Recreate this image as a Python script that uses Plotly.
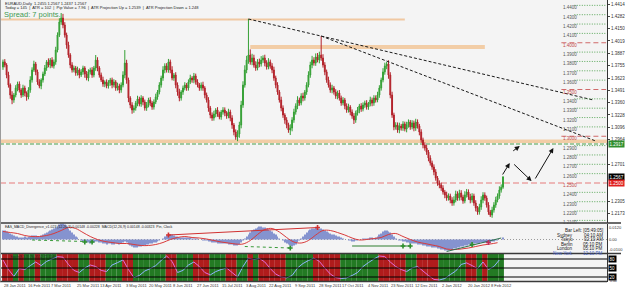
import plotly.graph_objects as go
import pandas as pd

W, H = 625, 289

# ---------------- data ----------------
symbol_header = "EURAUD,Daily  1.2455 1.2567 1.2437 1.2567"
info_header = "Today = 145  |  ATR = 102  |  Pip Value = 7.96  |  ATR Projection Up = 1.2539  |  ATR Projection Down = 1.248"
spread_text = "Spread: 7 points."
macd_header = "EAS_MACD_Divergence_v1.023 (12,26,9) 0.00148 -0.00228  MACD(12,26,9) 0.00148 -0.00323  Pin, Clock"
stoch_header = "Stoch(8,3,3) 76.3552 72.1140"

first_open_pips = 13740
close_pips = [
    13795, 13762, 13655, 13548, 13441, 13388, 13441, 13516, 13559, 13495,
    13441, 13516, 13462, 13420, 13495, 13602, 13709, 13773, 13688, 13580,
    13538, 13602, 13666, 13730, 13795, 13762, 13815, 13752, 13795, 13922,
    14083, 14222, 14264, 14190, 14083, 13976, 13869, 13762, 13709, 13730,
    13677, 13709, 13655, 13688, 13730, 13666, 13623, 13688, 13709, 13655,
    13730, 13815, 13730, 13655, 13602, 13559, 13580, 13538, 13570, 13602,
    13548, 13580, 13516, 13538, 13495, 13548, 13655, 13783, 13602, 13409,
    13334, 13281, 13302, 13356, 13398, 13345, 13409, 13366, 13302, 13334,
    13388, 13356, 13313, 13366, 13420, 13473, 13548, 13623, 13709, 13752,
    13709, 13795, 13709, 13623, 13655, 13548, 13473, 13409, 13473, 13516,
    13548, 13516, 13580, 13623, 13602, 13645, 13580, 13548, 13516, 13548,
    13516, 13441, 13388, 13302, 13227, 13195, 13238, 13281, 13238, 13206,
    13259, 13281, 13249, 13217, 13259, 13195, 13120, 13045, 12992, 13024,
    13120, 13334, 13548, 13709, 13815, 13869, 13795, 13837, 13762, 13730,
    13795, 13773, 13815, 13837, 13783, 13741, 13795, 13752, 13709, 13623,
    13548, 13473, 13388, 13302, 13227, 13174, 13120, 13067, 13088, 13174,
    13259, 13324, 13388, 13356, 13430, 13409, 13473, 13548, 13655, 13762,
    13815, 13783, 13848, 13815, 13869, 13837, 13762, 13688, 13602, 13548,
    13495, 13516, 13473, 13430, 13462, 13409, 13356, 13388, 13324, 13281,
    13313, 13259, 13217, 13174, 13249, 13281, 13324, 13291, 13334, 13356,
    13313, 13345, 13388, 13356, 13409, 13388, 13441, 13516, 13602, 13688,
    13752, 13773, 13655, 13441, 13227, 13099, 13120, 13067, 13110, 13088,
    13131, 13077, 13120, 13152, 13099, 13142, 13088, 13152, 13110, 13045,
    12960, 12906, 12874, 12831, 12767, 12714, 12671, 12618, 12553, 12500,
    12479, 12446, 12404, 12372, 12340, 12361, 12318, 12286, 12318, 12383,
    12340, 12393, 12350, 12308, 12372, 12404, 12350, 12318, 12361, 12286,
    12232, 12190, 12243, 12318, 12372, 12340, 12265, 12190, 12158, 12211,
    12265, 12318, 12361, 12425, 12455, 12567,
]
upper_wick_pips = [
    25, 30, 20, 35, 18, 40, 22, 30, 25, 28,
    20, 35, 25, 18, 30, 40, 28, 35, 22, 25,
    30, 18, 25, 32, 20, 38, 22, 30, 26, 35,
    28, 40, 54, 45, 30, 25, 35, 20, 30, 26,
    22, 35, 18, 30, 25, 20, 32, 28, 24, 30,
    22, 54, 30, 20, 26, 35, 18, 28, 30, 22,
    25, 30, 20, 35, 24, 28, 40, 139, 35, 25,
    20, 30, 28, 22, 35, 25, 30, 20, 26, 32,
    24, 30, 20, 28, 35, 22, 30, 25, 40, 28,
    30, 32, 25, 40, 22, 30, 28, 35, 20, 26,
    30, 22, 28, 35, 20, 32, 25, 30, 22, 28,
    35, 20, 26, 30, 22, 28, 35, 20, 30, 25,
    22, 30, 28, 20, 35, 25, 30, 22, 28, 40,
    35, 45, 40, 50, 45, 385, 60, 45, 35, 40,
    30, 35, 42, 28, 35, 30, 40, 25, 30, 35,
    25, 30, 22, 35, 28, 20, 30, 25, 40, 30,
    35, 28, 40, 25, 30, 35, 22, 30, 40, 35,
    45, 30, 38, 42, 35, 203, 40, 30, 25, 35,
    28, 35, 22, 30, 26, 32, 25, 30, 22, 28,
    35, 20, 28, 30, 25, 32, 22, 30, 28, 25,
    30, 22, 35, 25, 30, 28, 35, 30, 25, 40,
    35, 22, 40, 30, 35, 25, 30, 28, 35, 22,
    30, 25, 35, 28, 22, 30, 25, 35, 28, 22,
    30, 25, 28, 35, 22, 30, 25, 28, 30, 22,
    28, 25, 30, 22, 35, 28, 25, 30, 40, 35,
    28, 35, 30, 25, 40, 32, 28, 35, 30, 25,
    30, 22, 35, 40, 30, 28, 25, 30, 22, 35,
    30, 35, 28, 40, 30, 0,
]
lower_wick_pips = [
    30, 25, 35, 28, 40, 45, 30, 25, 35, 28,
    30, 22, 35, 40, 25, 30, 28, 20, 35, 30,
    25, 35, 28, 22, 30, 25, 35, 20, 28, 30,
    25, 22, 30, 35, 28, 40, 30, 35, 28, 25,
    30, 28, 35, 22, 30, 40, 25, 35, 28, 30,
    25, 30, 35, 28, 22, 30, 35, 25, 28, 30,
    35, 25, 30, 28, 35, 30, 25, 35, 40, 45,
    35, 40, 30, 28, 35, 25, 30, 35, 28, 30,
    25, 35, 30, 28, 22, 30, 25, 28, 30, 35,
    28, 30, 35, 25, 30, 35, 40, 35, 28, 30,
    25, 30, 28, 22, 30, 35, 28, 25, 30, 28,
    30, 35, 28, 40, 35, 30, 28, 35, 30, 25,
    30, 28, 35, 30, 25, 35, 40, 35, 30, 45,
    40, 35, 30, 28, 35, 40, 30, 35, 28, 30,
    25, 35, 28, 30, 35, 28, 25, 30, 35, 30,
    35, 30, 28, 35, 30, 40, 35, 30, 54, 35,
    30, 28, 35, 30, 25, 35, 28, 30, 25, 30,
    35, 28, 30, 25, 35, 30, 28, 35, 30, 28,
    30, 35, 28, 30, 35, 28, 30, 25, 35, 30,
    28, 35, 30, 43, 30, 28, 35, 30, 25, 30,
    28, 30, 25, 35, 30, 28, 25, 30, 28, 25,
    30, 35, 40, 35, 30, 35, 28, 30, 35, 28,
    30, 25, 35, 28, 30, 25, 35, 30, 28, 35,
    30, 35, 28, 30, 35, 28, 30, 35, 28, 30,
    35, 30, 28, 35, 30, 28, 35, 30, 28, 25,
    30, 28, 35, 30, 25, 28, 30, 35, 28, 30,
    35, 30, 28, 30, 35, 30, 28, 30, 22, 30,
    28, 30, 25, 30, 28, 18,
]

# MACD main (histogram) in thousandths
macd_main_milli = [
    9, 9, 8, 7, 6, 5, 4, 3, 3, 2,
    2, 2, 3, 2, 3, 3, 4, 4, 4, 3, 3, 4, 5,
    6, 7, 8, 9, 10, 11, 12, 13, 15, 16, 16, 15,
    13, 11, 9, 7, 5, 3, 2, 0,
    -1, -2, -2, -3, -3, -4, -3, -3, -2, -2, -3,
    -3, -4, -4, -5, -4, -4, -5, -5, -4, -4, -5, -4, -3, -2, -3, -5,
    -6, -7, -8, -8, -8, -7, -7, -6, -6,
    -5, -5, -4, -4, -3, -3, -2, -1, 0, 1, 3,
    4, 5, 5, 5, 4,
    3, 3, 2, 2, 2, 2, 2, 2, 2, 1, 1, 1, 1, 0,
    0, -1, -1, -1, -2, -2, -3, -3,
    -3, -4, -4, -4, -4, -4, -4, -5, -5, -5, -6, -6, -6, -5,
    -3, -1, 1, 3, 5,
    7, 9, 10, 11, 12, 13, 13, 12, 12, 11, 10,
    9, 8, 6, 5, 3, 1, 0, -1,
    -3, -4, -5, -6, -7, -6, -5, -3,
    -1, 1, 3, 5, 7, 9,
    10, 11, 11, 12, 12, 11, 11, 10,
    9, 8, 7, 6, 5, 5, 4, 3, 3, 2, 1,
    0, 0, -1, -1, -2, -2, -1, -1,
    0, 0, 1, 1, 1, 1, 2, 2, 1, 2, 3,
    5, 6, 8, 9, 9, 8, 7,
    5, 3, 1, 0, -1, -1, -2, -2, -3,
    -3, -4, -4, -4, -4, -5, -5, -5, -6, -6, -7, -7, -7, -8, -8, -8, -9,
    -9, -10, -10, -11, -11, -11, -10, -10,
    -9, -9, -8, -8, -7, -7, -6, -6, -5, -5, -5, -4, -4,
    -4, -4, -3, -3, -3, -3, -3, -3, -2, -2, -1, -1, 0, 0, 1.5,
]
macd_signal_step = 4
macd_signal_milli = [
    8, 7, 6, 4, 3, 3, 4, 6, 9, 12,
    11, 7, 3, 0, -2, -3, -4, -4, -5, -6,
    -6, -5, -3, 0, 2, 3, 2, 1.5, 0.5, -1,
    -2.5, -3.5, -4.5, -4.5, -1, 5, 10, 11, 7.5, 2,
    -2.5, -3.5, -1, 4.5, 9, 9, 7, 4.5, 1.5, -0.5,
    0, 1, 2, 5, 6, 3, 0, -2.5, -4, -5.5,
    -7, -9.5, -10, -9.5, -8.5, -7, -5.5, -4.5, -3.2,
]
# divergence marks: (bar0, value0, bar1, value1, colour, dash)
macd_div_lines = [
    (16, -0.5, 45, -2.0, "#3a9a3a", "dot"),
    (91, 4.5, 173, 12.0, "#d03030", "solid"),
    (133, -7.0, 158, -8.5, "#3a9a3a", "dot"),
    (192, -6.5, 224, -6.5, "#2f7f2f", "solid"),
    (244, -12.0, 274, 1.5, "#2f6f4f", "solid"),
]
macd_div_marks = [
    (45, -2.5, "#2f8f2f"), (49, -2.5, "#2f8f2f"), (91, 4.5, "#d03030"),
    (173, 12.0, "#d03030"), (158, -8.5, "#2f8f2f"), (220, -6.5, "#2f8f2f"),
    (224, -6.5, "#2f8f2f"), (258, -5.0, "#2f8f2f"), (267, -3.0, "#c03060"),
]

stoch_step = 3
stoch_values = [
    77, 45, 22, 48, 45, 58, 70, 58, 72, 80,
    88, 86, 62, 42, 35, 50, 60, 55, 42, 38,
    60, 68, 77, 45, 18, 25, 40, 48, 58, 75,
    90, 72, 35, 42, 60, 70, 55, 35, 27, 38,
    45, 50, 35, 20, 55, 83, 78, 82, 70, 48,
    30, 20, 17, 25, 50, 65, 75, 83, 72, 50,
    30, 18, 15, 17, 25, 35, 55, 68, 80, 90,
    88, 70, 55, 45, 38, 50, 55, 40, 25, 12,
    10, 15, 28, 40, 62, 67, 58, 48, 70, 45,
    55, 77,
]
stoch_levels = [80, 50, 20]

date_labels = [
    "28 Jan 2011", "16 Feb 2011", "7 Mar 2011", "25 Mar 2011", "13 Apr 2011",
    "3 May 2011", "20 May 2011", "8 Jun 2011", "27 Jun 2011", "15 Jul 2011",
    "3 Aug 2011", "22 Aug 2011", "9 Sep 2011", "28 Sep 2011", "17 Oct 2011",
    "4 Nov 2011", "23 Nov 2011", "12 Dec 2011", "2 Jan 2012", "20 Jan 2012",
    "8 Feb 2012",
]

right_axis_prices = [1.4414, 1.4282, 1.4150, 1.4019, 1.3887, 1.3755, 1.3623,
                     1.3491, 1.3360, 1.3228, 1.3096, 1.2964, 1.2701, 1.2305, 1.2173]
level_prices = [1.44, 1.43, 1.42, 1.41, 1.40, 1.39, 1.38, 1.37, 1.36, 1.35, 1.34, 1.33,
                1.32, 1.31, 1.30, 1.29, 1.28, 1.27, 1.26, 1.25, 1.24, 1.23, 1.22, 1.21]
pivot_level = 1.25
green_level = 1.2917
support_band = (1.2928, 1.2965)
resist_band = (1.3933, 1.3976, 136, 265)
top_line = (1.4249, 221)
trend_lines = [(135, 1.4254, 324.6, 1.3388), (175, 1.4072, 326.0, 1.2949)]
arrows = [((274.3, 1.2575), (278.7, 1.2714)), ((279.8, 1.2832), (284.2, 1.2896)),
          ((280.3, 1.2714), (290.7, 1.2521)), ((292.3, 1.2532), (302.7, 1.2874))]

clock_bar_left = "Bar Left: [05:49:05]"
clock_cities = ["Sydney", "Tokyo", "Berlin", "London", "New York"]
clock_times = ["04:10 AM", "02:10 AM", "05:10 PM", "05:10 PM", "12:10 PM"]

# ---------------- derived ----------------
n = len(close_pips)
idx = list(range(n))
close = [c / 1e4 for c in close_pips]
opn = [first_open_pips / 1e4] + close[:-1]
high = [max(o, c) + u / 1e4 for o, c, u in zip(opn, close, upper_wick_pips)]
low = [min(o, c) - l / 1e4 for o, c, l in zip(opn, close, lower_wick_pips)]
dates = pd.bdate_range("2011-01-28", periods=n)
date_index = {f"{d.day} {d.strftime('%b %Y')}": i for i, d in enumerate(dates)}

GREEN = "#35a035"
RED = "#b3222a"
BG = "#f4f4f4"

# pixel geometry
PX_PER_BAR = 1.83
X0_PX = 3.0
AXIS_PX = 611
x_range = [-X0_PX / PX_PER_BAR, (AXIS_PX - X0_PX) / PX_PER_BAR]
PX_PER_PRICE = 935.0
P_AT_183 = 1.25
main_bottom_px = 222.5
p_top = P_AT_183 + 183 / PX_PER_PRICE
p_bot = P_AT_183 - (main_bottom_px - 183) / PX_PER_PRICE


def fx(px):
    return px / W


def fy(py):
    return 1 - py / H


fig = go.Figure()

# main candles
fig.add_trace(go.Candlestick(
    x=idx, open=opn, high=high, low=low, close=close,
    increasing=dict(line=dict(color=GREEN, width=1), fillcolor=GREEN),
    decreasing=dict(line=dict(color=RED, width=1), fillcolor=RED),
    whiskerwidth=0, xaxis="x", yaxis="y", hoverinfo="skip", showlegend=False))

# trend lines
for (i0, p0, i1, p1) in trend_lines:
    fig.add_trace(go.Scatter(x=[i0, i1], y=[p0, p1], mode="lines",
                             line=dict(color="#1a1a1a", width=1, dash="3px,2px"),
                             xaxis="x", yaxis="y", hoverinfo="skip", showlegend=False))

# MACD
fig.add_trace(go.Bar(x=idx[:len(macd_main_milli)], y=[v / 1000 for v in macd_main_milli],
                     width=0.45, marker=dict(color="#8593cf", line=dict(width=0)),
                     xaxis="x2", yaxis="y2", hoverinfo="skip", showlegend=False))
sig_x = [k * macd_signal_step for k in range(len(macd_signal_milli))]
fig.add_trace(go.Scatter(x=sig_x, y=[v / 1000 for v in macd_signal_milli], mode="lines",
                         line=dict(color="#d83a3a", width=1, shape="spline"),
                         xaxis="x2", yaxis="y2", hoverinfo="skip", showlegend=False))
for (b0, v0, b1, v1, col, dash) in macd_div_lines:
    fig.add_trace(go.Scatter(x=[b0, b1], y=[v0 / 1000, v1 / 1000], mode="lines",
                             line=dict(color=col, width=1, dash=dash),
                             xaxis="x2", yaxis="y2", hoverinfo="skip", showlegend=False))
for (b, v, col) in macd_div_marks:
    fig.add_trace(go.Scatter(x=[b], y=[v / 1000], mode="markers",
                             marker=dict(symbol="cross", size=4, color=col),
                             xaxis="x2", yaxis="y2", hoverinfo="skip", showlegend=False))

# Stochastic panel: coloured blocks by direction + line
st_x = [k * stoch_step for k in range(len(stoch_values))]
dirs = []
for k in range(len(stoch_values)):
    if k < len(stoch_values) - 1:
        dirs.append(stoch_values[k + 1] >= stoch_values[k])
    else:
        dirs.append(stoch_values[k] >= stoch_values[k - 1])
fig.add_trace(go.Bar(x=[x + 1 for x in st_x], y=[91.7] * len(st_x), base=5, width=stoch_step,
                     marker=dict(color=["#237a23" if d else "#b01c1c" for d in dirs], line=dict(width=0)),
                     xaxis="x3", yaxis="y3", hoverinfo="skip", showlegend=False))
up_x, up_y, dn_x, dn_y = [], [], [], []
for k in range(len(stoch_values) - 1):
    seg_x = [st_x[k], st_x[k + 1], None]
    seg_y = [stoch_values[k], stoch_values[k + 1], None]
    if stoch_values[k + 1] >= stoch_values[k]:
        up_x += seg_x; up_y += seg_y
    else:
        dn_x += seg_x; dn_y += seg_y
fig.add_trace(go.Scatter(x=up_x, y=up_y, mode="lines", line=dict(color="#8fb4ff", width=1),
                         xaxis="x3", yaxis="y3", hoverinfo="skip", showlegend=False, connectgaps=False))
fig.add_trace(go.Scatter(x=dn_x, y=dn_y, mode="lines", line=dict(color="#e46ad8", width=1),
                         xaxis="x3", yaxis="y3", hoverinfo="skip", showlegend=False, connectgaps=False))

shapes = []
# bands and levels in main chart
shapes.append(dict(type="rect", xref="x domain", yref="y", x0=0, x1=1,
                   y0=support_band[0], y1=support_band[1], fillcolor="#f2cda6", line_width=0, layer="below"))
shapes.append(dict(type="rect", xref="x", yref="y", x0=resist_band[2], x1=resist_band[3],
                   y0=resist_band[0], y1=resist_band[1], fillcolor="#f2cda6", line_width=0, layer="below"))
shapes.append(dict(type="line", xref="x", yref="y", x0=x_range[0], x1=top_line[1],
                   y0=top_line[0], y1=top_line[0], line=dict(color="#f0c8a2", width=2), layer="below"))
shapes.append(dict(type="line", xref="x domain", yref="y", x0=0, x1=1, y0=green_level, y1=green_level,
                   line=dict(color="#4a9f4a", width=1, dash="4px,2px"), layer="below"))
shapes.append(dict(type="line", xref="x domain", yref="y", x0=0, x1=1, y0=pivot_level, y1=pivot_level,
                   line=dict(color="#eaa3a3", width=1.6, dash="6px,3px"), layer="below"))
annotations = []
for p in level_prices:
    major = round(p * 100) % 5 == 0
    if major and abs(p - pivot_level) > 1e-9:
        shapes.append(dict(type="line", xref="paper", yref="y", x0=fx(565), x1=fx(610), y0=p, y1=p,
                           line=dict(color="#d06a6a", width=1, dash="5px,3px"), layer="above"))
    elif not major:
        shapes.append(dict(type="line", xref="paper", yref="y", x0=fx(578), x1=fx(610), y0=p, y1=p,
                           line=dict(color="#5aa85a", width=1, dash="1px,1.5px"), layer="above"))
    annotations.append(dict(x=fx(565), y=p, xref="paper", yref="y", text=f"{p:.4f}", showarrow=False,
                            xanchor="left", yanchor="middle", yshift=-2.5,
                            font=dict(size=4.5, color="#c04848" if major else "#555555", family="Arial")))

# MACD zero line
shapes.append(dict(type="line", xref="x2 domain", yref="y2", x0=0, x1=1, y0=0, y1=0,
                   line=dict(color="#9a9a9a", width=1, dash="1px,2px"), layer="below"))
# stoch level lines
for lv in stoch_levels:
    shapes.append(dict(type="line", xref="paper", yref="y3", x0=0, x1=fx(AXIS_PX), y0=lv, y1=lv,
                       line=dict(color="#000000", width=1), layer="above"))
# panel separators / borders
for py, x1 in [(223.0, 1.0), (253.5, 1.0), (281.5, fx(AXIS_PX))]:
    shapes.append(dict(type="line", xref="paper", yref="paper", x0=0, x1=x1, y0=fy(py), y1=fy(py),
                       line=dict(color="#3a3a3a", width=1.4)))
shapes.append(dict(type="line", xref="paper", yref="paper", x0=fx(0.5), x1=fx(0.5), y0=fy(281.5), y1=1,
                   line=dict(color="#9a9a9a", width=1)))

# header texts
annotations.append(dict(x=fx(3), y=fy(3), xref="paper", yref="paper", text=symbol_header, showarrow=False,
                        xanchor="left", yanchor="middle", font=dict(size=4, color="#222", family="Arial")))
annotations.append(dict(x=fx(3), y=fy(7.5), xref="paper", yref="paper", text=info_header, showarrow=False,
                        xanchor="left", yanchor="middle", font=dict(size=4, color="#222", family="Arial")))
annotations.append(dict(x=fx(2), y=fy(14.5), xref="paper", yref="paper", text=spread_text, showarrow=False,
                        xanchor="left", yanchor="middle", font=dict(size=7.5, color="#3f9a52", family="Arial")))
annotations.append(dict(x=fx(3), y=fy(226.5), xref="paper", yref="paper", text=macd_header, showarrow=False,
                        xanchor="left", yanchor="middle", font=dict(size=3.5, color="#222", family="Arial")))
annotations.append(dict(x=fx(8), y=fy(257), xref="paper", yref="paper", text=stoch_header, showarrow=False,
                        xanchor="left", yanchor="middle", font=dict(size=3.5, color="#222", family="Arial")))

# arrows
for (tail, head) in arrows:
    annotations.append(dict(x=head[0], y=head[1], ax=tail[0], ay=tail[1], xref="x", yref="y",
                            axref="x", ayref="y", text="", showarrow=True, arrowhead=2,
                            arrowsize=1, arrowwidth=1, arrowcolor="#111"))

# right axis price boxes
for val, bg in [(green_level, "#2f8f2f"), (close[-1], "#000000"), (pivot_level, "#e02020")]:
    annotations.append(dict(x=fx(AXIS_PX + 0.5), y=val, xref="paper", yref="y", text=f"{val:.4f}",
                            showarrow=False, xanchor="left", yanchor="middle", bgcolor=bg, borderpad=0.5,
                            font=dict(size=4.5, color="#ffffff", family="Arial")))
# stoch right labels
for lv in stoch_levels:
    annotations.append(dict(x=fx(AXIS_PX + 0.5), y=lv, xref="paper", yref="y3", text=f"{lv}",
                            showarrow=False, xanchor="left", yanchor="middle", bgcolor="#000000",
                            borderpad=0.5, font=dict(size=4.5, color="#ffffff", family="Arial")))
annotations.append(dict(x=fx(AXIS_PX + 1), y=fy(281), xref="paper", yref="paper", text="0.00",
                        showarrow=False, xanchor="left", yanchor="middle",
                        font=dict(size=3.5, color="#333", family="Arial")))

# clock
annotations.append(dict(x=fx(609), y=fy(230), xref="paper", yref="paper", text=clock_bar_left,
                        showarrow=False, xanchor="right", yanchor="middle",
                        font=dict(size=4.5, color="#222", family="Arial")))
for k, (city, t) in enumerate(zip(clock_cities, clock_times)):
    py = 235 + 4.6 * k
    col = "#4a66c8" if city == "New York" else "#222"
    annotations.append(dict(x=fx(579), y=fy(py), xref="paper", yref="paper", text=city, showarrow=False,
                            xanchor="right", yanchor="middle", font=dict(size=4.5, color=col, family="Arial")))
    annotations.append(dict(x=fx(609), y=fy(py), xref="paper", yref="paper", text=t, showarrow=False,
                            xanchor="right", yanchor="middle", font=dict(size=4.5, color=col, family="Arial")))

# date labels
for lab in date_labels:
    if lab in date_index:
        annotations.append(dict(x=date_index[lab], y=fy(285.5), xref="x3", yref="paper", text=lab,
                                showarrow=False, xanchor="left", yanchor="middle", xshift=-1,
                                font=dict(size=4, color="#333", family="Arial")))

xcommon = dict(range=x_range, domain=[0, fx(AXIS_PX)], visible=False, showgrid=False, zeroline=False)
fig.update_layout(
    width=W, height=H, autosize=False,
    margin=dict(l=0, r=0, t=0, b=0, pad=0),
    paper_bgcolor="#ffffff", plot_bgcolor=BG,
    showlegend=False,
    xaxis=dict(**xcommon, anchor="y", rangeslider=dict(visible=False)),
    xaxis2=dict(**xcommon, anchor="y2"),
    xaxis3=dict(**xcommon, anchor="y3"),
    yaxis=dict(domain=[fy(main_bottom_px), 1], range=[p_bot, p_top], side="right", anchor="x",
               tickvals=right_axis_prices, ticktext=[f"{v:.4f}" for v in right_axis_prices],
               tickfont=dict(size=4.5, color="#333", family="Arial"), ticks="outside", ticklen=2,
               tickcolor="#444", showgrid=False, zeroline=False, showline=True, linecolor="#333",
               linewidth=1),
    yaxis2=dict(domain=[fy(253), fy(223.5)], range=[-0.0135, 0.016], side="right", anchor="x2",
                tickvals=[0.012, 0.0, -0.010], ticktext=["0.0120", "0.00", "-0.0100"],
                tickfont=dict(size=4, color="#333", family="Arial"), ticks="", showgrid=False,
                zeroline=False, showline=True, linecolor="#333", linewidth=1),
    yaxis3=dict(domain=[fy(281.5), fy(254)], range=[5, 96.7], side="right", anchor="x3",
                showticklabels=False, ticks="", showgrid=False, zeroline=False, showline=True,
                linecolor="#333", linewidth=1),
    shapes=shapes, annotations=annotations,
)

fig.write_html("out.html")
